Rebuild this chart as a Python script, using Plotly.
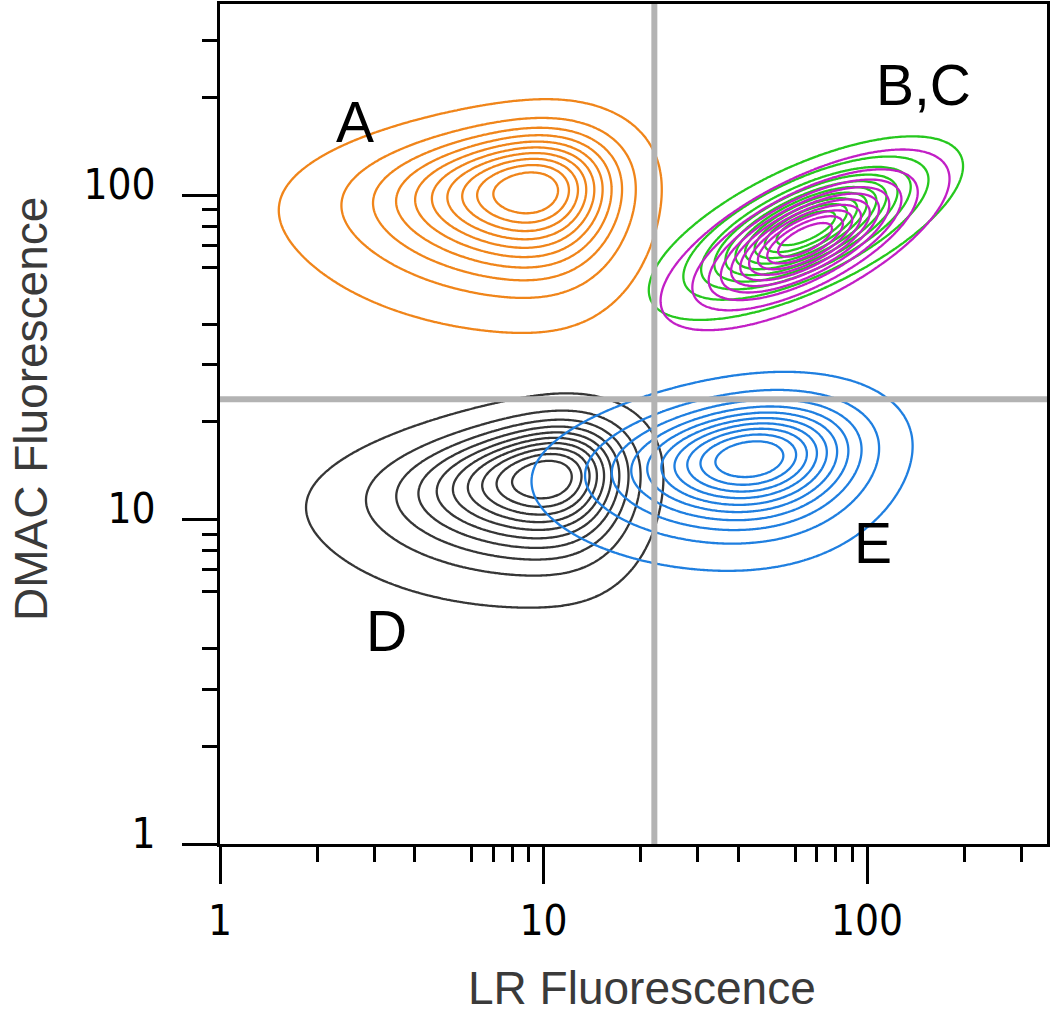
import numpy as np
import plotly.graph_objects as go

# ---------------- data ----------------
pop_names = ["A", "B", "C", "D", "E"]
pop_colors = ["#f0851a", "#26c81e", "#c21fc6", "#363636", "#1f7fe0"]
center_lr = [13.12, 64.7, 64.3, 14.13, 62.7]        # location of each population (LR)
center_dmac = [135.2, 79.1, 72.8, 17.54, 19.6]      # location of each population (DMAC)
spread_major = [0.355, 0.204, 0.190, 0.340, 0.312]  # decades
spread_minor = [0.200, 0.074, 0.072, 0.182, 0.156]  # decades
tilt_deg = [5, 25, 27, 8, 7]
skew_major = [-2.7, 0.0, 0.0, -3.0, -1.6]
skew_minor = [-2.0, 0.0, 0.0, -2.0, -1.5]
ring_levels = dict(start=0.035, end=0.9, size=0.095)

label_text = ["A", "B,C", "D", "E"]
label_lr = [2.61, 149.0, 3.28, 104.0]
label_dmac = [168.0, 218.0, 4.53, 8.47]

gate_lr = 22.0
gate_dmac = 23.5

x_major = [1, 10, 100]
x_mid = [5, 50]
x_minor = [2, 3, 4, 6, 7, 8, 9, 20, 30, 40, 60, 70, 80, 90, 200, 300]
y_major = [1, 10, 100]
y_mid = [5, 50]
y_minor = [2, 3, 4, 6, 7, 8, 9, 20, 30, 40, 60, 70, 80, 90, 200, 300]

x_range_log = [0, 2.556]
y_range_log = [0, 2.589]


# ---------------- helpers ----------------
def erf(x):
    s = np.sign(x)
    a = np.abs(x)
    t = 1.0 / (1.0 + 0.3275911 * a)
    y = 1.0 - (((((1.061405429 * t - 1.453152027) * t) + 1.421413741) * t
                - 0.284496736) * t + 0.254829592) * t * np.exp(-a * a)
    return s * y


def Phi(x):
    return 0.5 * (1.0 + erf(x / np.sqrt(2.0)))


u = np.linspace(x_range_log[0], x_range_log[1], 420)
v = np.linspace(y_range_log[0], y_range_log[1], 420)
U, V = np.meshgrid(u, v)

fig = go.Figure()

for i, name in enumerate(pop_names):
    th = np.deg2rad(tilt_deg[i])
    du = U - np.log10(center_lr[i])
    dv = V - np.log10(center_dmac[i])
    z1 = (du * np.cos(th) + dv * np.sin(th)) / spread_major[i]
    z2 = (-du * np.sin(th) + dv * np.cos(th)) / spread_minor[i]
    dens = (np.exp(-0.5 * z1 ** 2) * Phi(skew_major[i] * z1)
            * np.exp(-0.5 * z2 ** 2) * Phi(skew_minor[i] * z2))
    dens = dens / dens.max()
    fig.add_trace(go.Contour(
        x=10 ** u, y=10 ** v, z=dens,
        contours=dict(coloring="lines", showlabels=False, **ring_levels),
        colorscale=[[0, pop_colors[i]], [1, pop_colors[i]]],
        line=dict(width=2.3),
        showscale=False, hoverinfo="skip", name=name,
    ))

# quadrant gate
fig.add_shape(type="line", xref="x", yref="paper",
              x0=gate_lr, x1=gate_lr, y0=0, y1=1,
              line=dict(color="#b3b3b3", width=6), layer="above")
fig.add_shape(type="line", xref="paper", yref="y",
              x0=0, x1=1, y0=gate_dmac, y1=gate_dmac,
              line=dict(color="#b3b3b3", width=6), layer="above")

# population labels
for t, lx, ly in zip(label_text, label_lr, label_dmac):
    fig.add_annotation(x=np.log10(lx), y=np.log10(ly), xref="x", yref="y",
                       text=t, showarrow=False,
                       font=dict(family="Liberation Sans, Arial", size=57, color="black"))

# axis titles
W, H = 1050, 1020
L, R, T, B = 220, 3, 4, 176
pw, ph = W - L - R, H - T - B
fig.add_annotation(text="LR Fluorescence", xref="paper", yref="paper",
                   x=(642 - L) / pw, y=-(988 - (H - B)) / ph,
                   xanchor="center", yanchor="middle", showarrow=False,
                   font=dict(family="Liberation Sans, Arial", size=46, color="#3a3a3a"))
fig.add_annotation(text="DMAC Fluorescence", xref="paper", yref="paper",
                   x=(31 - L) / pw, y=(H - B - 409) / ph, textangle=-90,
                   xanchor="center", yanchor="middle", showarrow=False,
                   font=dict(family="Liberation Sans, Arial", size=46, color="#3a3a3a"))

tickfont = dict(family="Liberation Sans Narrow, DejaVu Sans Condensed, Liberation Mono",
                size=42, color="black")

fig.update_layout(
    width=W, height=H,
    margin=dict(l=L, r=R, t=T, b=B),
    paper_bgcolor="white", plot_bgcolor="white",
    showlegend=False,
    xaxis=dict(type="log", range=x_range_log, showgrid=False, zeroline=False,
               automargin=False,
               showline=True, linecolor="black", linewidth=3, mirror=True,
               tickmode="array", tickvals=x_major, ticktext=[str(t) for t in x_major],
               ticks="outside", ticklen=37, tickwidth=3, tickcolor="black",
               tickfont=tickfont, ticklabelstandoff=1,
               minor=dict(tickmode="array", tickvals=x_minor, ticks="outside",
                          ticklen=15, tickwidth=3, tickcolor="black", showgrid=False)),
    yaxis=dict(type="log", range=y_range_log, showgrid=False, zeroline=False,
               automargin=False,
               showline=True, linecolor="black", linewidth=3, mirror=True,
               tickmode="array", tickvals=y_major, ticktext=[str(t) for t in y_major],
               ticks="outside", ticklen=35, tickwidth=3, tickcolor="black",
               tickfont=tickfont, ticklabelstandoff=18, ticklabelshift=-11,
               minor=dict(tickmode="array", tickvals=y_minor, ticks="outside",
                          ticklen=15, tickwidth=3, tickcolor="black", showgrid=False)),
    xaxis2=dict(type="log", range=x_range_log, overlaying="x", anchor="y", side="bottom",
                automargin=False,
                showgrid=False, zeroline=False, showline=False,
                tickmode="array", tickvals=x_mid, ticks="outside", ticklen=25,
                tickwidth=3, tickcolor="black", showticklabels=False),
    yaxis2=dict(type="log", range=y_range_log, overlaying="y", anchor="x", side="left",
                automargin=False,
                showgrid=False, zeroline=False, showline=False,
                tickmode="array", tickvals=y_mid, ticks="outside", ticklen=23,
                tickwidth=3, tickcolor="black", showticklabels=False),
)

fig.write_html("out.html", config={"displayModeBar": False},
               post_script="document.body.style.margin='0px';")
